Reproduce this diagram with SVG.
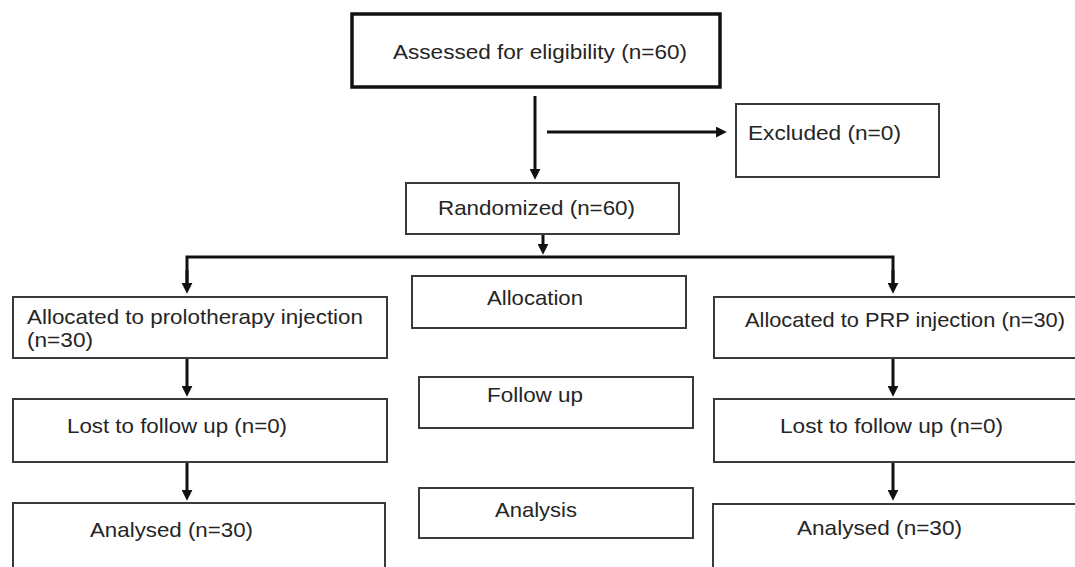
<svg xmlns="http://www.w3.org/2000/svg" width="1075" height="567" viewBox="0 0 1075 567">
<defs>
<style>
.box{fill:#fff;stroke:#3a3a3a;stroke-width:2}
.main{fill:#fff;stroke:#111;stroke-width:3.5}
.t{font-family:"Liberation Sans",Arial,sans-serif;font-size:21px;fill:#252525}
.c{fill:none;stroke:#111;stroke-width:3}
</style>
<marker id="ah" viewBox="0 0 10 10" markerWidth="11" markerHeight="11" markerUnits="userSpaceOnUse" refX="2" refY="5" orient="auto">
<path d="M0,0 L10,5 L0,10 z" fill="#111"/>
</marker>
</defs>
<rect width="1075" height="567" fill="#fff"/>
<g id="connectors">
<path class="c" d="M535,96 V171" marker-end="url(#ah)"/>
<path class="c" d="M547,132 H718" marker-end="url(#ah)"/>
<path class="c" d="M543,234 V246" marker-end="url(#ah)"/>
<path class="c" d="M187,286 V257 H893 V286"/>
<path class="c" d="M187,270 V285" marker-end="url(#ah)"/>
<path class="c" d="M893,270 V285" marker-end="url(#ah)"/>
<path class="c" d="M187,358 V388" marker-end="url(#ah)"/>
<path class="c" d="M893,358 V388" marker-end="url(#ah)"/>
<path class="c" d="M187,462 V492" marker-end="url(#ah)"/>
<path class="c" d="M893,462 V492" marker-end="url(#ah)"/>
</g>
<g id="assessed">
<rect class="main" x="352" y="14" width="368" height="73"/>
<text class="t" x="393" y="59" textLength="294" lengthAdjust="spacingAndGlyphs">Assessed for eligibility (n=60)</text>
</g>
<g id="excluded">
<rect class="box" x="736" y="104" width="203" height="73"/>
<text class="t" x="748" y="140" textLength="153" lengthAdjust="spacingAndGlyphs">Excluded (n=0)</text>
</g>
<g id="randomized">
<rect class="box" x="406" y="183" width="273" height="51"/>
<text class="t" x="438" y="215" textLength="197" lengthAdjust="spacingAndGlyphs">Randomized (n=60)</text>
</g>
<g id="alloc-left">
<rect class="box" x="13" y="297" width="374" height="61"/>
<text class="t" x="27" y="324" textLength="336" lengthAdjust="spacingAndGlyphs">Allocated to prolotherapy injection</text>
<text class="t" x="27" y="347" textLength="66" lengthAdjust="spacingAndGlyphs">(n=30)</text>
</g>
<g id="allocation">
<rect class="box" x="412" y="276" width="274" height="52"/>
<text class="t" x="487" y="305" textLength="96" lengthAdjust="spacingAndGlyphs">Allocation</text>
</g>
<g id="alloc-right">
<rect class="box" x="714" y="297" width="370" height="61"/>
<text class="t" x="745" y="327" textLength="320" lengthAdjust="spacingAndGlyphs">Allocated to PRP injection (n=30)</text>
</g>
<g id="lost-left">
<rect class="box" x="13" y="399" width="374" height="63"/>
<text class="t" x="67" y="433" textLength="220" lengthAdjust="spacingAndGlyphs">Lost to follow up (n=0)</text>
</g>
<g id="followup">
<rect class="box" x="419" y="377" width="274" height="51"/>
<text class="t" x="487" y="402" textLength="96" lengthAdjust="spacingAndGlyphs">Follow up</text>
</g>
<g id="lost-right">
<rect class="box" x="714" y="399" width="370" height="63"/>
<text class="t" x="780" y="433" textLength="223" lengthAdjust="spacingAndGlyphs">Lost to follow up (n=0)</text>
</g>
<g id="analysed-left">
<rect class="box" x="13" y="503" width="372" height="80"/>
<text class="t" x="90" y="537" textLength="163" lengthAdjust="spacingAndGlyphs">Analysed (n=30)</text>
</g>
<g id="analysis">
<rect class="box" x="419" y="488" width="274" height="50"/>
<text class="t" x="495" y="517" textLength="82" lengthAdjust="spacingAndGlyphs">Analysis</text>
</g>
<g id="analysed-right">
<rect class="box" x="713" y="504" width="370" height="80"/>
<text class="t" x="797" y="535" textLength="165" lengthAdjust="spacingAndGlyphs">Analysed (n=30)</text>
</g>
</svg>
